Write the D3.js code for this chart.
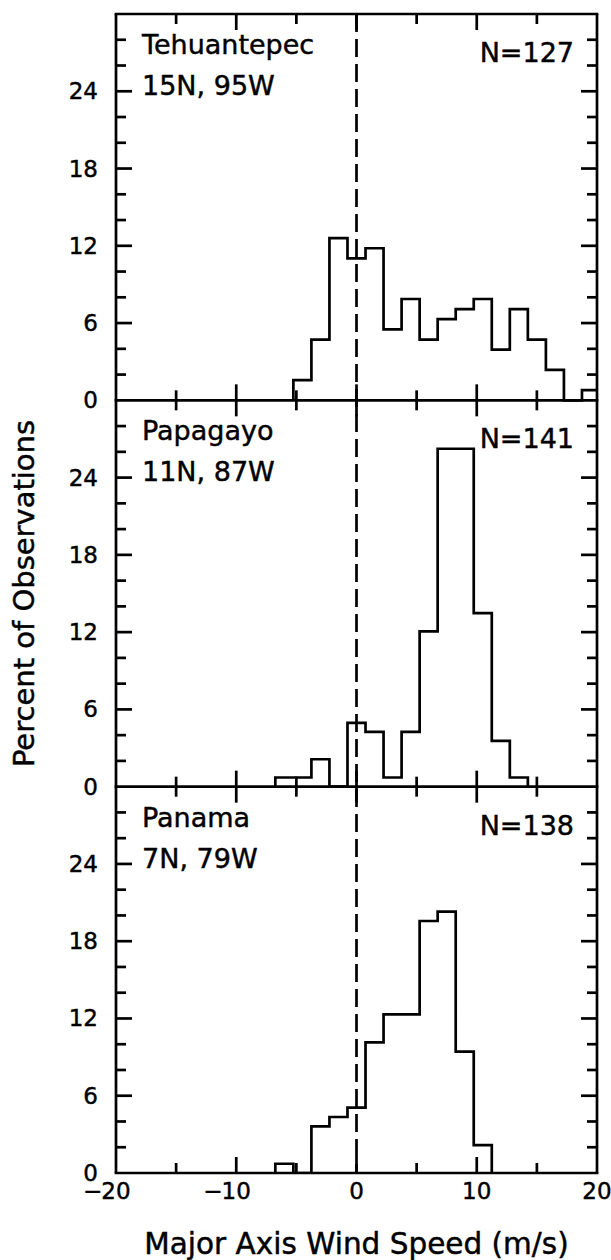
<!DOCTYPE html>
<html>
<head>
<meta charset="utf-8">
<script src="https://cdn.jsdelivr.net/npm/d3@7"></script>
<style>
  html, body { margin: 0; padding: 0; background: #fff; }
  svg { display: block; }
  text { font-family: "DejaVu Sans", sans-serif; fill: #000; stroke: #000; stroke-width: 0.45px; }
</style>
</head>
<body>
<svg id="chart" width="611" height="1260"></svg>
<script>
// Histogram bins are 1.5 m/s wide, listed by bin centre.
const binWidth = 1.5;

// Tehuantepec, 15N 95W (N = 127)
const tehuantepecCenters = [-4.5, -3, -1.5, 0, 1.5, 3, 4.5, 6, 7.5, 9, 10.5, 12, 13.5, 15, 16.5, 18, 19.5];
const tehuantepecPercent = [1.57, 4.72, 12.60, 11.02, 11.81, 5.51, 7.87, 4.72, 6.30, 7.09, 7.87, 3.94, 7.09, 4.72, 2.36, 0, 0.79];

// Papagayo, 11N 87W (N = 141)
const papagayoCenters = [-6, -4.5, -3, -1.5, 0, 1.5, 3, 4.5, 6, 7.5, 9, 10.5, 12, 13.5];
const papagayoPercent = [0.71, 0.71, 2.13, 0, 4.96, 4.26, 0.71, 4.26, 12.06, 26.24, 26.24, 13.48, 3.55, 0.71];

// Panama, 7N 79W (N = 138)
const panamaCenters = [-6, -4.5, -3, -1.5, 0, 1.5, 3, 4.5, 6, 7.5, 9, 10.5];
const panamaPercent = [0.72, 0, 3.62, 4.35, 5.07, 10.14, 12.32, 12.32, 19.57, 20.29, 9.42, 2.17];

const panelNames = ["Tehuantepec", "Papagayo", "Panama"];
const panelLocations = ["15N, 95W", "11N, 87W", "7N, 79W"];
const panelCounts = ["N=127", "N=141", "N=138"];

// Axis ticks
const xMajorTicks = [-20, -10, 0, 10, 20];
const xMinorTicks = [-15, -5, 5, 15];
const xTickLabels = [-20, -10, 0, 10, 20];
const yTicks = [2, 4, 6, 8, 10, 12, 14, 16, 18, 20, 22, 24, 26, 28];
const yTickLabels = [0, 6, 12, 18, 24];

const xTitle = "Major Axis Wind Speed (m/s)";
const yTitle = "Percent of Observations";

// ---- layout ----
const plotLeft = 116, plotRight = 597, plotTop = 14, plotBottom = 1173;
const nPanels = 3;
const panelH = (plotBottom - plotTop) / nPanels;
const yMax = 30;
const majorLen = 16, minorLen = 10;
const lw = 2.7;

const svg = d3.select("#chart");

const x = d3.scaleLinear().domain([-20, 20]).range([plotLeft, plotRight]);

svg.append("defs").append("clipPath").attr("id", "plotClip")
  .append("rect")
  .attr("x", plotLeft).attr("y", plotTop)
  .attr("width", plotRight - plotLeft).attr("height", plotBottom - plotTop);

const series = [
  { centers: tehuantepecCenters, values: tehuantepecPercent },
  { centers: papagayoCenters, values: papagayoPercent },
  { centers: panamaCenters, values: panamaPercent }
];

// Outline (step) path for a histogram, in data units
function stepOutline(centers, values) {
  const pts = [[centers[0] - binWidth / 2, 0]];
  centers.forEach((c, i) => {
    pts.push([c - binWidth / 2, values[i]]);
    pts.push([c + binWidth / 2, values[i]]);
  });
  pts.push([centers[centers.length - 1] + binWidth / 2, 0]);
  return pts;
}

const plot = svg.append("g");

series.forEach((s, i) => {
  const p0 = plotTop + i * panelH;
  const y = d3.scaleLinear().domain([0, yMax]).range([p0 + panelH, p0]);
  const g = plot.append("g");

  // histogram outline
  const line = d3.line().x(d => x(d[0])).y(d => y(d[1]));
  g.append("path")
    .attr("d", line(stepOutline(s.centers, s.values)))
    .attr("fill", "none")
    .attr("stroke", "#000")
    .attr("stroke-width", lw)
    .attr("stroke-linejoin", "miter")
    .attr("clip-path", "url(#plotClip)");

  // y ticks on both vertical borders
  g.append("g").selectAll("line").data(yTicks).join("line")
    .attr("x1", plotLeft).attr("x2", d => plotLeft + (d % 6 === 0 ? majorLen : minorLen))
    .attr("y1", d => y(d)).attr("y2", d => y(d))
    .attr("stroke", "#000").attr("stroke-width", lw);
  g.append("g").selectAll("line").data(yTicks).join("line")
    .attr("x1", plotRight).attr("x2", d => plotRight - (d % 6 === 0 ? majorLen : minorLen))
    .attr("y1", d => y(d)).attr("y2", d => y(d))
    .attr("stroke", "#000").attr("stroke-width", lw);

  // y tick labels
  g.append("g").selectAll("text").data(yTickLabels).join("text")
    .attr("x", 98).attr("y", d => y(d))
    .attr("text-anchor", "end")
    .attr("dominant-baseline", "central")
    .style("font-size", "23px")
    .text(d => d);

  // panel annotations
  g.append("text").attr("x", 142).attr("y", p0 + 40)
    .style("font-size", "27px").text(panelNames[i]);
  g.append("text").attr("x", 142).attr("y", p0 + 81)
    .style("font-size", "27px").text(panelLocations[i]);
  g.append("text").attr("x", 574).attr("y", p0 + 48)
    .attr("text-anchor", "end")
    .style("font-size", "27px").text(panelCounts[i]);
});

// horizontal axis lines: top border, panel boundaries, bottom border
const boundaries = d3.range(nPanels + 1).map(k => plotTop + k * panelH);
plot.append("g").selectAll("line").data(boundaries).join("line")
  .attr("x1", plotLeft - lw / 2).attr("x2", plotRight + lw / 2)
  .attr("y1", d => d).attr("y2", d => d)
  .attr("stroke", "#000").attr("stroke-width", lw);

// vertical borders
[plotLeft, plotRight].forEach(xx => {
  plot.append("line")
    .attr("x1", xx).attr("x2", xx).attr("y1", plotTop).attr("y2", plotBottom)
    .attr("stroke", "#000").attr("stroke-width", lw);
});

// x ticks: inward at the outer borders, crossing at inner boundaries
const xTickData = xMajorTicks.filter(v => v > -20 && v < 20).map(v => ({ v, len: majorLen }))
  .concat(xMinorTicks.map(v => ({ v, len: minorLen })));
boundaries.forEach((by, k) => {
  const up = k > 0, down = k < nPanels;
  plot.append("g").selectAll("line").data(xTickData).join("line")
    .attr("x1", d => x(d.v)).attr("x2", d => x(d.v))
    .attr("y1", d => by - (up ? d.len : 0))
    .attr("y2", d => by + (down ? d.len : 0))
    .attr("stroke", "#000").attr("stroke-width", lw);
});

// zero reference line
plot.append("line")
  .attr("x1", x(0)).attr("x2", x(0)).attr("y1", plotTop).attr("y2", plotBottom)
  .attr("stroke", "#000").attr("stroke-width", lw)
  .attr("stroke-dasharray", "18,7");

// x tick labels: digits centred on the tick, minus sign hanging to the left
const xl = svg.append("g");
xTickLabels.forEach(v => {
  const t = xl.append("text")
    .attr("x", x(v)).attr("y", 1199)
    .attr("text-anchor", "middle")
    .style("font-size", "23px")
    .text(Math.abs(v));
  if (v < 0) {
    const w = t.node().getComputedTextLength();
    xl.append("text")
      .attr("x", x(v) - w / 2 + 1).attr("y", 1199)
      .attr("text-anchor", "end")
      .style("font-size", "23px")
      .text("\u2212");
  }
});

// axis titles
svg.append("text")
  .attr("x", (plotLeft + plotRight) / 2).attr("y", 1254)
  .attr("text-anchor", "middle")
  .style("font-size", "29.5px")
  .text(xTitle);

svg.append("text")
  .attr("transform", `translate(34,${(plotTop + plotBottom) / 2}) rotate(-90)`)
  .attr("text-anchor", "middle")
  .style("font-size", "29px")
  .text(yTitle);
</script>
</body>
</html>
